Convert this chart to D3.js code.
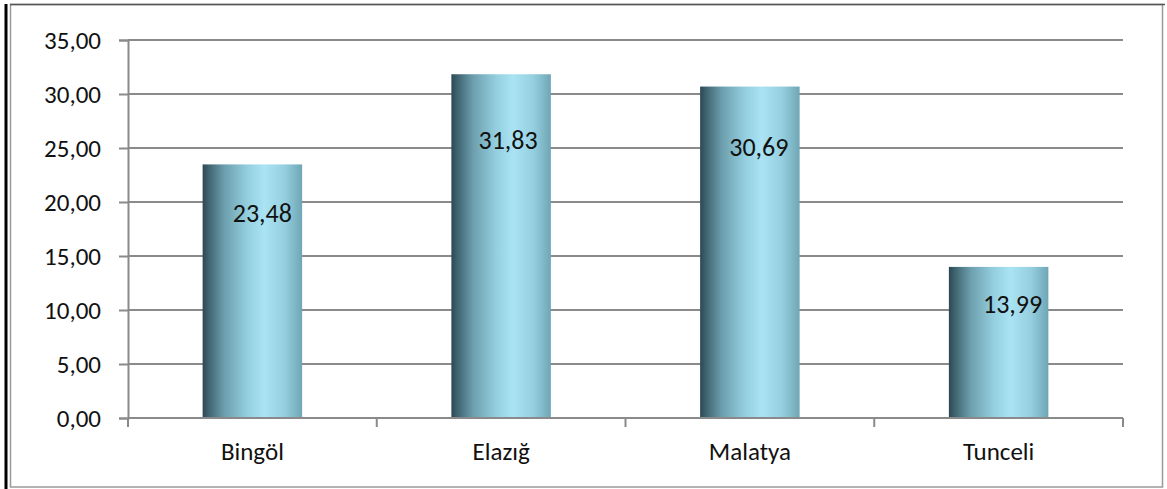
<!DOCTYPE html>
<html>
<head>
<meta charset="utf-8">
<script src="https://cdn.jsdelivr.net/npm/d3@7"></script>
<style>
  html, body { margin: 0; padding: 0; background: #fff; }
  svg { display: block; }
  text { font-family: Carlito, Lato, "Open Sans", sans-serif; fill: #111; }
</style>
</head>
<body>
<svg id="chart" width="1167" height="489"></svg>
<script>
// Provinces and their values
const categories = ["Bingöl", "Elazığ", "Malatya", "Tunceli"];
const values = [23.48, 31.83, 30.69, 13.99];
const yTicks = [0, 5, 10, 15, 20, 25, 30, 35];

// Hand-placed data label nudges (pixels from bar centre / bar top)
const labelDx = [10, 7, 9, 14];
const labelDy = [48, 65, 60, 37];

const fmt = v => v.toFixed(2).replace(".", ",");

const svg = d3.select("#chart");
const W = 1167, H = 489;
const plot = { left: 128, right: 1123, top: 40, bottom: 418 };

// Frame around the chart
svg.append("rect")
  .attr("x", 10.5).attr("y", 4.5)
  .attr("width", 1152).attr("height", 482.5)
  .attr("fill", "#fff").attr("stroke", "#9a9a9a").attr("stroke-width", 1.5);
svg.append("line")
  .attr("x1", 10).attr("x2", 1165).attr("y1", 4.5).attr("y2", 4.5)
  .attr("stroke", "#555").attr("stroke-width", 1.5);
svg.append("line")
  .attr("x1", 6).attr("x2", 6).attr("y1", 4).attr("y2", H)
  .attr("stroke", "#000").attr("stroke-width", 3);

const x = d3.scaleBand()
  .domain(categories)
  .range([plot.left, plot.right])
  .paddingInner(0.6)
  .paddingOuter(0.3);

const y = d3.scaleLinear()
  .domain([0, 35])
  .range([plot.bottom, plot.top]);

// Bar fill: cylinder-like horizontal shading
const defs = svg.append("defs");
const grad = defs.append("linearGradient")
  .attr("id", "barGrad")
  .attr("x1", "0%").attr("x2", "100%").attr("y1", "0%").attr("y2", "0%");
[
  [0, "#2c4852"],
  [0.06, "#3f636f"],
  [0.22, "#6d9fae"],
  [0.45, "#94cfdf"],
  [0.62, "#aae4f4"],
  [0.82, "#96d0e0"],
  [1, "#6fa6b5"]
].forEach(([o, c]) => grad.append("stop").attr("offset", o).attr("stop-color", c));

// Horizontal gridlines
svg.append("g")
  .selectAll("line")
  .data(yTicks.filter(t => t > 0))
  .join("line")
  .attr("x1", plot.left).attr("x2", plot.right)
  .attr("y1", d => y(d)).attr("y2", d => y(d))
  .attr("stroke", "#8a8a8a").attr("stroke-width", 2);

// Y axis
const yAxis = svg.append("g")
  .attr("transform", `translate(${plot.left},0)`)
  .call(d3.axisLeft(y).tickValues(yTicks).tickFormat(fmt).tickSize(9).tickPadding(18));
yAxis.select(".domain").attr("stroke", "#8a8a8a").attr("stroke-width", 2);
yAxis.selectAll(".tick line").attr("stroke", "#8a8a8a").attr("stroke-width", 2);
yAxis.selectAll(".tick text")
  .attr("font-size", 25)
  .attr("font-family", "Carlito, Lato, 'Open Sans', sans-serif")
  .attr("fill", "#111");

// Bars
svg.append("g")
  .selectAll("rect")
  .data(values)
  .join("rect")
  .attr("x", (d, i) => x(categories[i]))
  .attr("y", d => y(d))
  .attr("width", x.bandwidth())
  .attr("height", d => y(0) - y(d))
  .attr("fill", "url(#barGrad)");

// X axis with ticks on category boundaries
const bounds = d3.range(categories.length + 1).map(i => plot.left + i * x.step());
const xg = svg.append("g");
xg.append("line")
  .attr("x1", plot.left).attr("x2", plot.right)
  .attr("y1", y(0)).attr("y2", y(0))
  .attr("stroke", "#8a8a8a").attr("stroke-width", 2);
xg.selectAll("line.tk")
  .data(bounds)
  .join("line")
  .attr("class", "tk")
  .attr("x1", d => d).attr("x2", d => d)
  .attr("y1", y(0)).attr("y2", y(0) + 9)
  .attr("stroke", "#8a8a8a").attr("stroke-width", 2);
xg.selectAll("text")
  .data(categories)
  .join("text")
  .attr("x", d => x(d) + x.bandwidth() / 2)
  .attr("y", 460)
  .attr("text-anchor", "middle")
  .attr("font-size", 25)
  .text(d => d);

// Data labels
svg.append("g")
  .selectAll("text")
  .data(values)
  .join("text")
  .attr("x", (d, i) => x(categories[i]) + x.bandwidth() / 2 + labelDx[i])
  .attr("y", (d, i) => y(d) + labelDy[i])
  .attr("dy", "0.36em")
  .attr("text-anchor", "middle")
  .attr("font-size", 26)
  .text(d => fmt(d));
</script>
</body>
</html>
